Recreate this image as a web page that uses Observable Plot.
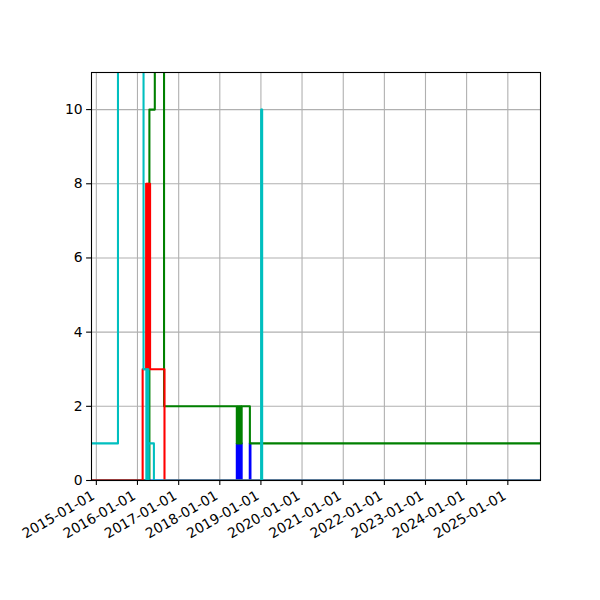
<!DOCTYPE html>
<html><head><meta charset="utf-8">
<script src="https://cdn.jsdelivr.net/npm/d3@7"></script>
<script src="https://cdn.jsdelivr.net/npm/@observablehq/plot@0.6"></script>
<style>body{margin:0;background:#fff} #chart{width:600px;height:600px}</style>
</head><body><div id="chart"></div>
<script>
const xStart = "2014-11-19", xEnd = "2025-10-18";

const blueDates = ["2014-11-19","2018-06-01","2018-06-06","2018-06-11","2018-06-16","2018-06-21","2018-06-26","2018-07-01","2018-07-06","2018-07-11","2018-07-14","2018-09-24","2018-09-30","2025-10-18"];
const blueValues = [0,1,0,1,0,1,0,1,0,1,0,1,0,0];

const greenDates = ["2014-11-19","2016-04-16","2016-06-03","2016-08-24","2018-06-01","2018-06-06","2018-06-11","2018-06-16","2018-06-21","2018-06-26","2018-07-01","2018-07-06","2018-07-11","2018-07-14","2018-09-25","2025-10-18"];
const greenValues = [0,10,15,2,1,2,1,2,1,2,1,2,1,2,1,1];

const redDates = ["2014-11-19","2016-02-16","2016-03-18","2016-03-22","2016-03-26","2016-03-30","2016-04-03","2016-04-07","2016-04-11","2016-04-15","2016-04-19","2016-04-22","2016-08-28","2025-10-18"];
const redValues = [0,3,8,3,8,3,8,3,8,3,8,3,0,0];

const cyanDates = ["2014-11-19","2015-07-12","2016-02-24","2016-03-20","2016-03-23","2016-03-26","2016-03-29","2016-04-01","2016-04-04","2016-04-07","2016-04-10","2016-05-26","2019-01-03","2019-01-06","2019-01-09","2019-01-12","2025-10-18"];
const cyanValues = [1,15,3,0,3,0,3,0,3,0,1,0,10,0,10,0,0];

const seriesColors = {blue:"#0000ff", green:"#008000", red:"#ff0000", cyan:"#00bfbf"};
const yTicks = [0,2,4,6,8,10];
const xTickLabels = ["2015-01-01","2016-01-01","2017-01-01","2018-01-01","2019-01-01","2020-01-01","2021-01-01","2022-01-01","2023-01-01","2024-01-01","2025-01-01"];

function rows(dates, values) { return dates.map((d, i) => ({date: new Date(d), value: values[i]})); }
const xTicks = xTickLabels.map(d => new Date(d));

const lineOpts = c => ({x: "date", y: "value", curve: "step-after", stroke: seriesColors[c], strokeWidth: 2.08, clip: true});
const gridStyle = {stroke: "#b0b0b0", strokeOpacity: 1, strokeWidth: 1.1};

const chart = Plot.plot({
  width: 600, height: 600,
  marginTop: 72, marginBottom: 120, marginLeft: 91, marginRight: 60,
  style: {fontFamily: "DejaVu Sans", fontSize: "13.9px", background: "white", color: "black", overflow: "visible"},
  x: {type: "utc", domain: [new Date(xStart), new Date(xEnd)]},
  y: {domain: [0, 11]},
  marks: [
    Plot.gridX(xTicks, gridStyle),
    Plot.gridY(yTicks, gridStyle),
    Plot.line(rows(blueDates, blueValues), lineOpts("blue")),
    Plot.line(rows(greenDates, greenValues), lineOpts("green")),
    Plot.line(rows(redDates, redValues), lineOpts("red")),
    Plot.line(rows(cyanDates, cyanValues), lineOpts("cyan")),
    Plot.frame({stroke: "black", strokeWidth: 1.1}),
    Plot.axisY(yTicks, {tickSize: 4.9, tickPadding: 4, label: null, strokeWidth: 1.1, fontSize: 13.9}),
    Plot.axisX(xTicks, {tickSize: 4.9, text: null, label: null, strokeWidth: 1.1}),
    Plot.axisX(xTicks, {tickSize: 0, tickPadding: 10, tickRotate: -30, tickFormat: d3.utcFormat("%Y-%m-%d"), label: null, fontSize: 13.9, dx: -3, dy: 4})
  ]
});
document.getElementById("chart").appendChild(chart);
</script></body></html>
